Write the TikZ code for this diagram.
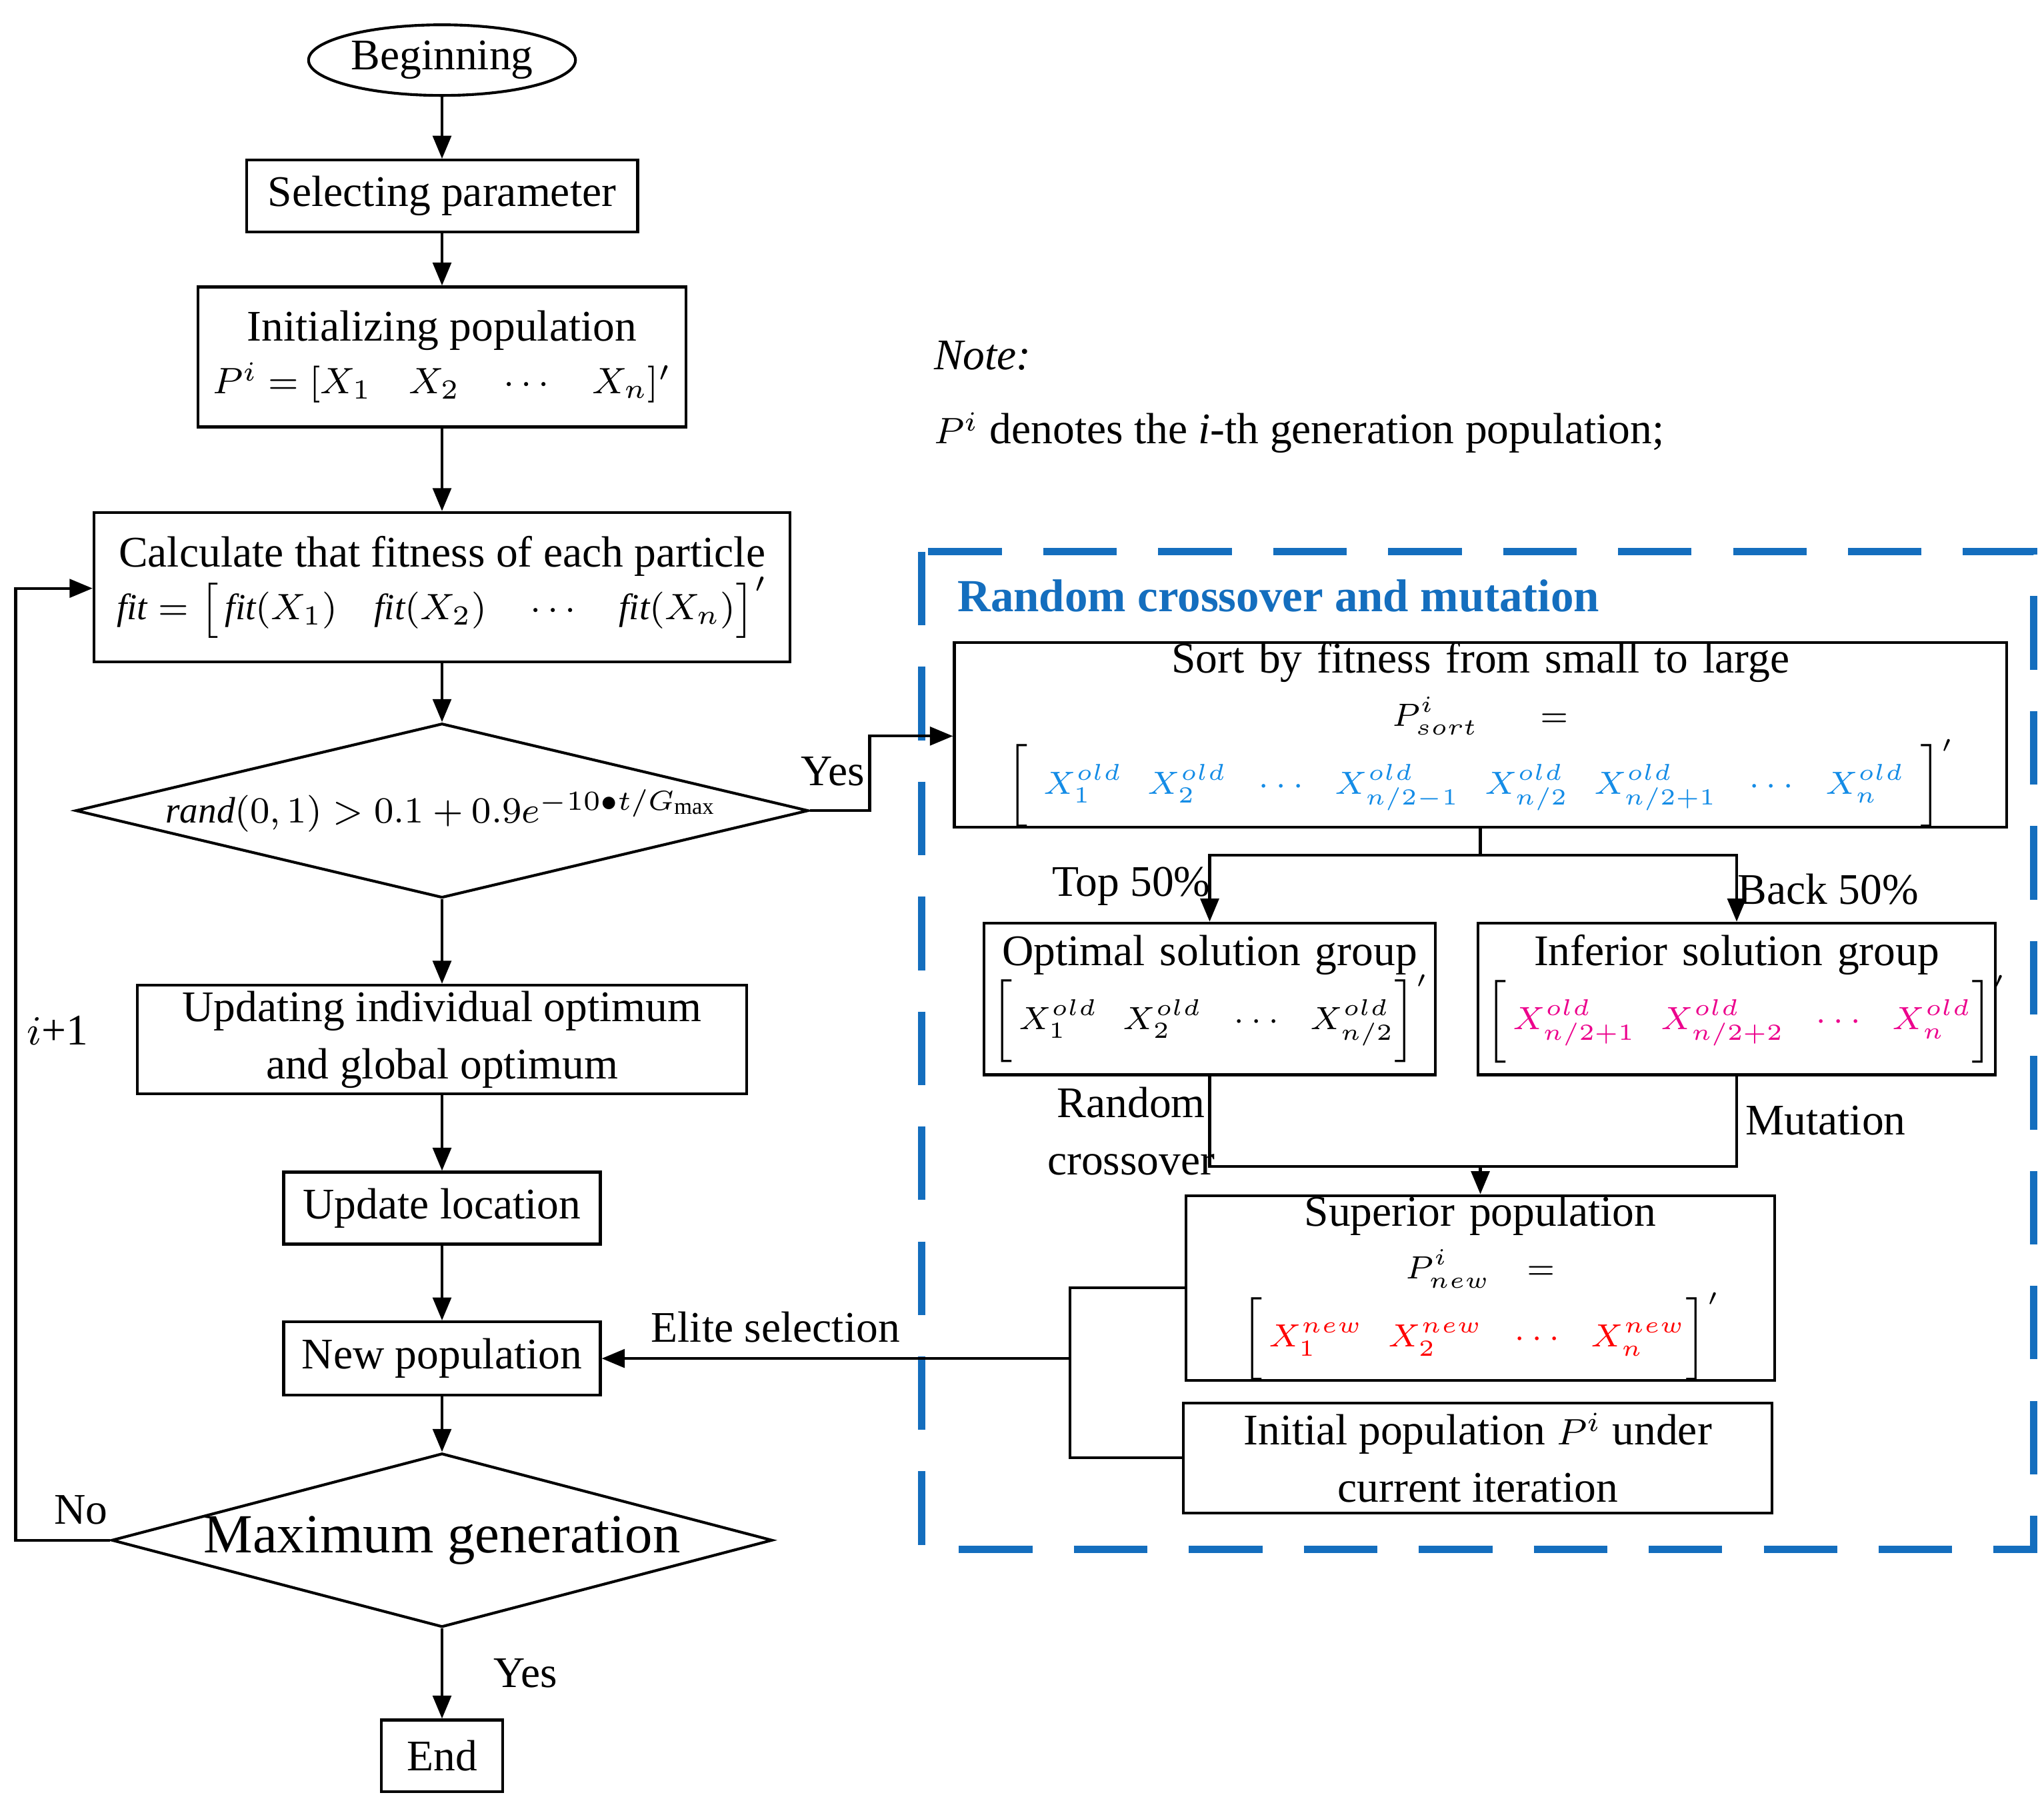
\documentclass[tikz,border=0pt]{standalone}
\usepackage{fontspec}
\setmainfont{Liberation Serif}
\usetikzlibrary{shapes.geometric,arrows.meta}
\definecolor{dblue}{RGB}{20,110,190}
\definecolor{tblue}{RGB}{20,140,230}
\newcommand{\mth}[1]{{\fontsize{8}{10}\selectfont$#1$}}
\newcommand{\mths}[1]{{\fontsize{7.5}{9}\selectfont$#1$}}
\newcommand{\gp}{\mskip12mu}
\begin{document}
\fontsize{9.5}{12.5}\selectfont
\begin{tikzpicture}[x=0.01cm,y=-0.01cm,
 box/.style={draw,semithick,inner sep=0pt,align=center,font=\fontsize{9.5}{12.5}\selectfont},
 arr/.style={semithick,-{Triangle[length=5pt,width=4pt]}},
 ln/.style={semithick},
 lab/.style={font=\fontsize{9.5}{12.5}\selectfont,inner sep=1pt}]
\useasboundingbox (0,0) rectangle (1563,1377);
\node[box,ellipse,minimum width=2.04cm,minimum height=0.54cm] (beg) at (338,46) {Beginning};
\node[box,minimum width=2.99cm,minimum height=0.55cm] (sel) at (338,150) {Selecting parameter};
\node[box,minimum width=3.73cm,minimum height=1.07cm] (ini) at (338,273) {Initializing population\\[-1pt] \mth{P^i=[X_1\quad X_2\quad\cdots\quad X_n]'}};
\node[box,minimum width=5.32cm,minimum height=1.14cm] (cal) at (338,449) {Calculate that fitness of each particle\\[-1pt] \mth{\mathit{fit}=\bigl[\,\mathit{fit}(X_1)\quad \mathit{fit}(X_2)\quad\cdots\quad \mathit{fit}(X_n)\bigr]'}};
\node[box,diamond,aspect=4.2,minimum width=5.22cm,minimum height=1.25cm,inner sep=0pt] (dia) at (338,620) {\mth{\mathit{rand}(0,1)>0.1+0.9e^{-10\bullet t/G_{\max}}}};
\node[box,minimum width=4.66cm,minimum height=0.83cm] (upd) at (338,795) {Updating individual optimum\\ and global optimum};
\node[box,minimum width=2.42cm,minimum height=0.55cm] (loc) at (338,924) {Update location};
\node[box,minimum width=2.42cm,minimum height=0.56cm] (newp) at (338,1039) {New population};
\node[box,diamond,aspect=3.8,minimum width=4.46cm,minimum height=1.17cm,inner sep=0pt,font=\fontsize{12}{14}\selectfont] (max) at (338,1178) {Maximum generation};
\node[box,minimum width=0.93cm,minimum height=0.55cm] (end) at (338,1343) {End};
\draw[arr] (beg) -- (sel);
\draw[arr] (sel) -- (ini);
\draw[arr] (ini) -- (cal);
\draw[arr] (cal) -- (dia);
\draw[arr] (dia) -- (upd);
\draw[arr] (upd) -- (loc);
\draw[arr] (loc) -- (newp);
\draw[arr] (newp) -- (max);
\draw[arr] (max) -- (end) node[lab,midway,right=10pt] {Yes};
\coordinate (l1) at (12,1178); \coordinate (l2) at (12,450);
\draw[arr] (max.west) -- (l1) -- (l2) -- (cal.west |- l2);
\node[lab] (no) at (62,1155) {No};
\node[lab] (ip) at (44,788) {$i$+1};
\node[lab,anchor=west] (note) at (710,272) {\itshape Note:};
\node[lab,anchor=west] (note2) at (710,331) {\mth{P^i} denotes the \textit{i}-th generation population;};
\draw[dblue,line width=1.6pt,dash pattern=on 16pt off 9pt] (705,422) rectangle (1555,1185);
\node[lab,anchor=west,text=dblue,font=\fontsize{10}{12}\selectfont\bfseries] (title) at (728,456) {Random crossover and mutation};
\node[box,minimum width=8.04cm,minimum height=1.13cm,text width=7.9cm] (sort) at (1132,562) {Sort by fitness from small to large\\[-1pt]
 \mths{P^i_{sort}=\Bigl[\;\textcolor{tblue}{X_1^{old}\gp X_2^{old}\gp\cdots\gp X_{n/2-1}^{old}\gp X_{n/2}^{old}\gp X_{n/2+1}^{old}\gp\cdots\gp X_n^{old}}\;\Bigr]'}};
\coordinate (y1) at (665,620); \coordinate (y2) at (665,563);
\draw[arr] (dia.east) -- (y1) -- (y2) -- (sort.west |- y2);
\node[lab] (yes1) at (637,590) {Yes};
\node[box,minimum width=3.45cm,minimum height=1.16cm,text width=3.35cm] (opt) at (925,764) {Optimal solution group\\[-1pt] \mths{\Bigl[\,X_1^{old}\gp X_2^{old}\gp\cdots\gp X_{n/2}^{old}\Bigr]'}};
\node[box,minimum width=3.95cm,minimum height=1.16cm,text width=3.85cm] (inf) at (1328,764) {Inferior solution group\\[-1pt] \mths{\Bigl[\,\textcolor{magenta}{X_{n/2+1}^{old}\gp X_{n/2+2}^{old}\gp\cdots\gp X_n^{old}}\Bigr]'}};
\coordinate (s1) at (1132,654);
\draw[ln] (sort.south) -- (s1);
\draw[arr] (s1) -| (opt.north);
\draw[arr] (s1) -| (inf.north);
\node[lab] (top) at (865,678) {Top 50\%};
\node[lab] (back) at (1398,680) {Back 50\%};
\node[box,minimum width=4.5cm,minimum height=1.16cm,text width=4.4cm] (sup) at (1132,985) {Superior population\\[-1pt] \mths{P^i_{new}=\Bigl[\,\textcolor{red}{X_1^{new}\gp X_2^{new}\gp\cdots\gp X_n^{new}}\Bigr]'}};
\node[box,minimum width=4.5cm,minimum height=0.84cm] (inip) at (1130,1115) {Initial population \mth{P^i} under\\ current iteration};
\coordinate (m1) at (1132,892);
\draw[ln] (opt.south) |- (m1) -| (inf.south);
\draw[arr] (m1) -- (sup.north);
\node[lab,align=center] (rc) at (865,865) {Random\\crossover};
\node[lab] (mut) at (1396,857) {Mutation};
\coordinate (b1) at (818,985); \coordinate (b2) at (818,1115); \coordinate (b3) at (818,1039);
\draw[ln] (sup.west) -- (b1) -- (b2) -- (inip.west);
\draw[arr] (b3) -- (newp.east);
\node[lab] (elite) at (593,1015) {Elite selection};
\end{tikzpicture}
\end{document}
